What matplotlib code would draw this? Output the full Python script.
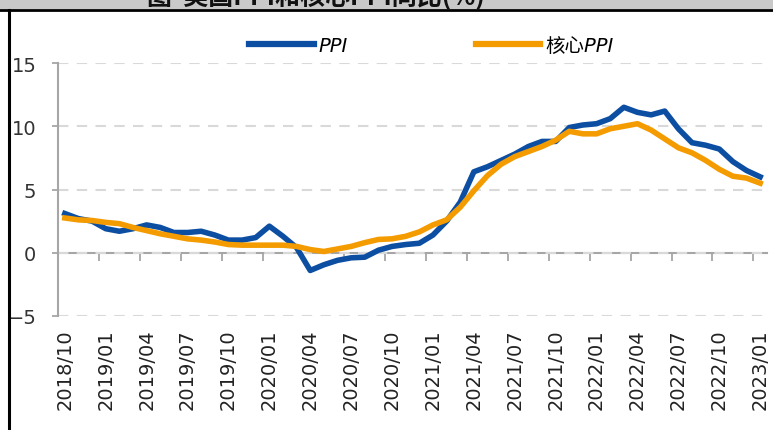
import numpy as np
import matplotlib
matplotlib.use("Agg")
import matplotlib.pyplot as plt
from matplotlib.lines import Line2D
from matplotlib.patches import Rectangle

# meses del eje x (2018/10 - 2023/01)
meses = []
for anio in range(2018, 2024):
    for mes in range(1, 13):
        if (anio == 2018 and mes < 10) or (anio == 2023 and mes > 1):
            continue
        meses.append("%d/%02d" % (anio, mes))

ppi = [3.1, 2.7, 2.5, 1.9, 1.7, 1.9, 2.2, 2.0, 1.6, 1.6, 1.7, 1.4,
       1.0, 1.0, 1.2, 2.1, 1.3, 0.4, -1.4, -0.95, -0.6, -0.4, -0.35, 0.2,
       0.5, 0.65, 0.75, 1.4, 2.5, 4.0, 6.4, 6.8, 7.3, 7.8, 8.4, 8.8,
       8.8, 9.9, 10.1, 10.2, 10.6, 11.5, 11.1, 10.9, 11.2, 9.8, 8.7, 8.5,
       8.2, 7.2, 6.5, 6.0]

ppi_core = [2.75, 2.6, 2.55, 2.4, 2.3, 2.0, 1.75, 1.5, 1.3, 1.1, 1.0, 0.85,
            0.65, 0.6, 0.6, 0.6, 0.6, 0.5, 0.25, 0.1, 0.3, 0.5, 0.8, 1.05,
            1.1, 1.3, 1.65, 2.2, 2.6, 3.6, 4.9, 6.1, 7.0, 7.6, 8.0, 8.4,
            8.9, 9.6, 9.4, 9.4, 9.8, 10.0, 10.2, 9.7, 9.0, 8.3, 7.9, 7.3,
            6.6, 6.05, 5.9, 5.5]

series_labels = ["PPI", "核心PPI"]
y_ticks = [-5, 0, 5, 10, 15]
titulo = "图  美国PPI和核心PPI同比(%)"

azul = "#0c4ea1"
naranja = "#f49b00"
gris = "#a6a6a6"

W, H = 773, 431
fig = plt.figure(figsize=(W / 100, H / 100), dpi=100)

# banda gris del titulo (recortada arriba, como en la imagen original) y marco
fig.add_artist(Rectangle((0, 1 - 10 / H), 1, 10 / H, transform=fig.transFigure,
                         facecolor="#c9c9c9", edgecolor="none"))
fig.text(0.19, 1 - 5 / H, titulo, fontsize=18, fontweight="bold", color="#111111",
         va="baseline", ha="left", family=["Noto Sans CJK SC", "DejaVu Sans"])
fig.add_artist(Line2D([0, 1], [1 - 11 / H, 1 - 11 / H], transform=fig.transFigure,
                      color="black", lw=2))
fig.add_artist(Line2D([9 / W, 9 / W], [0, 1 - 11 / H], transform=fig.transFigure,
                      color="black", lw=2.2))

ax = fig.add_axes([58 / W, 1 - 317 / H, (767 - 58) / W, (317 - 64) / H])

x = np.arange(len(meses))
ax.plot(x, ppi, color=azul, lw=4, solid_joinstyle="round", label=series_labels[0], zorder=3)
ax.plot(x, ppi_core, color=naranja, lw=4, solid_joinstyle="round", label=series_labels[1], zorder=4)

ax.set_xlim(-0.5, len(meses) - 0.5)
ax.set_ylim(y_ticks[0], y_ticks[-1])
ax.set_yticks(y_ticks)
ax.tick_params(axis="y", direction="out", length=4.5, width=1.3, color=gris,
               labelsize=14, labelcolor="#333333", pad=11)
ax.yaxis.grid(True, color="#d9d9d9", linestyle=(0, (5, 4)), lw=1.5, zorder=0)

for lado in ["top", "right", "bottom"]:
    ax.spines[lado].set_visible(False)
ax.spines["left"].set_color(gris)
ax.spines["left"].set_linewidth(1.5)

# etiquetas del eje x abajo, cada 3 meses
ax.set_xticks(x[::3])
ax.set_xticklabels(meses[::3], rotation=90, fontsize=14, color="#222222")
ax.tick_params(axis="x", length=0, pad=9)

# eje horizontal en y=0 con marcas entre categorias
pos_cero = (0 - y_ticks[0]) / (y_ticks[-1] - y_ticks[0])
eje0 = ax.secondary_xaxis(pos_cero)
eje0.set_xticks(np.arange(-0.5, len(meses) - 1, 3))
eje0.set_xticklabels([])
eje0.tick_params(direction="out", length=6, width=1.3, color=gris)
eje0.spines["bottom"].set_color(gris)
eje0.spines["bottom"].set_linewidth(1.5)

ley = fig.legend(loc="center", bbox_to_anchor=(0.558, 1 - 46 / H), ncol=2, frameon=False,
                 handlelength=3.3, handletextpad=0.25, columnspacing=6.6,
                 prop={"family": ["DejaVu Sans", "Noto Sans CJK SC"], "style": "italic", "size": 14})
for linea in ley.get_lines():
    linea.set_linewidth(4.5)

fig.savefig("out.png", dpi=100)
